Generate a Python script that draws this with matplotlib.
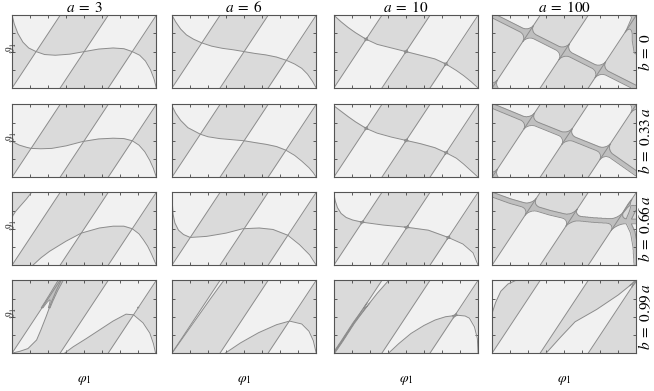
import numpy as np
import matplotlib.pyplot as plt
from matplotlib.path import Path

plt.rcParams['mathtext.fontset'] = 'stix'
plt.rcParams['font.family'] = ['Liberation Serif', 'DejaVu Serif']

# all coordinates in units of pi: phi_1 in [0, 2], theta_1 in [0, 1]
a_values = [3, 6, 10, 100]
b_labels = [r'$b\;=\;0$', r'$b\;=\;0.33\,a$', r'$b\;=\;0.66\,a$', r'$b\;=\;0.99\,a$']

# straight boundaries (bottom and top crossing of each line)
line_bottom = [0.0, 2 / 3, 4 / 3]
line_top = [2 / 3, 4 / 3, 2.0]

# ---- b = 0 ----
c_3_0_x = [0, 0.03, 0.08, 0.15, 0.23, 0.333, 0.45, 0.6, 0.8, 1.0, 1.2, 1.4, 1.55, 1.667, 1.77, 1.85, 1.92, 1.97, 2.0]
c_3_0_y = [1.0, 0.88, 0.75, 0.63, 0.55, 0.5, 0.46, 0.45, 0.465, 0.5, 0.535, 0.55, 0.54, 0.5, 0.45, 0.37, 0.25, 0.12, 0.0]
c_6_0_x = [0, 0.05, 0.12, 0.2, 0.3, 0.413, 0.55, 0.7, 0.85, 1.0, 1.15, 1.3, 1.45, 1.587, 1.7, 1.8, 1.88, 1.95, 2.0]
c_6_0_y = [1.0, 0.91, 0.81, 0.73, 0.67, 0.62, 0.575, 0.545, 0.525, 0.5, 0.475, 0.455, 0.425, 0.38, 0.33, 0.27, 0.19, 0.09, 0.0]
c_10_0_x = [0, 0.1, 0.2, 0.3, 0.447, 0.6, 0.8, 1.0, 1.2, 1.4, 1.553, 1.7, 1.8, 1.9, 2.0]
c_10_0_y = [1.0, 0.91, 0.83, 0.76, 0.67, 0.6, 0.55, 0.5, 0.45, 0.4, 0.33, 0.24, 0.17, 0.09, 0.0]
c_100_0_x = [0, 0.5, 1.0, 1.5, 2.0]
c_100_0_y = [1.0, 0.75, 0.5, 0.25, 0.0]
edge_100_0_x = [2.0, 1.975, 1.975, 2.0]
edge_100_0_y = [1.0, 0.85, 0.65, 0.5]

# ---- b = 0.33 a ----
c_3_1_x = [0, 0.1, 0.2, 0.263, 0.4, 0.55, 0.75, 0.98, 1.2, 1.4, 1.55, 1.667, 1.76, 1.84, 1.91, 1.96, 2.0]
c_3_1_y = [0.49, 0.44, 0.41, 0.395, 0.39, 0.395, 0.43, 0.49, 0.525, 0.535, 0.53, 0.5, 0.44, 0.35, 0.23, 0.12, 0.0]
c_6_1_x = [0, 0.05, 0.12, 0.22, 0.393, 0.5, 0.66, 0.83, 1.0, 1.15, 1.31, 1.45, 1.58, 1.7, 1.8, 1.9, 1.96, 2.0]
c_6_1_y = [0.98, 0.88, 0.78, 0.68, 0.59, 0.555, 0.53, 0.515, 0.5, 0.475, 0.45, 0.42, 0.37, 0.3, 0.22, 0.13, 0.06, 0.0]
c_10_1_x = [0, 0.1, 0.2, 0.3, 0.447, 0.6, 0.8, 1.0, 1.2, 1.4, 1.557, 1.7, 1.8, 1.9, 2.0]
c_10_1_y = [0.98, 0.905, 0.83, 0.76, 0.67, 0.605, 0.55, 0.505, 0.46, 0.405, 0.335, 0.26, 0.18, 0.09, 0.0]
c_100_1_x = [0, 0.513, 1.04, 1.57, 2.0]
c_100_1_y = [0.98, 0.77, 0.56, 0.35, 0.05]

# ---- b = 0.66 a ----
c_3_2_x = [0.29, 0.4, 0.52, 0.75, 0.96, 1.21, 1.4, 1.55, 1.667, 1.76, 1.82, 1.88, 1.93, 1.97, 2.0]
c_3_2_y = [0.0, 0.1, 0.19, 0.33, 0.44, 0.51, 0.535, 0.535, 0.5, 0.43, 0.35, 0.26, 0.16, 0.07, 0.0]
blob_3_2_x = [0.0, 0.01, 0.05, 0.12, 0.2, 0.27]
blob_3_2_y = [0.64, 0.68, 0.74, 0.82, 0.91, 1.0]
c_6_2_x = [0.0, 0.005, 0.015, 0.04, 0.09, 0.16, 0.253, 0.48, 0.75, 0.98, 1.21, 1.4, 1.607, 1.77, 1.91, 2.0]
c_6_2_y = [1.0, 0.85, 0.7, 0.58, 0.48, 0.42, 0.38, 0.395, 0.44, 0.5, 0.51, 0.49, 0.41, 0.28, 0.14, 0.0]
c_10_2_x = [0.0, 0.02, 0.05, 0.1, 0.17, 0.26, 0.393, 0.69, 1.013, 1.31, 1.587, 1.79, 1.93, 2.0]
c_10_2_y = [0.98, 0.88, 0.79, 0.71, 0.655, 0.62, 0.59, 0.55, 0.52, 0.48, 0.38, 0.29, 0.17, 0.0]
c_100_2_x = [0, 0.25, 0.533, 0.8, 1.1, 1.4, 1.733, 1.88, 2.05]
c_100_2_y = [0.97, 0.88, 0.8, 0.72, 0.65, 0.62, 0.6, 0.6, 0.6]
edge_100_2_x = [1.88, 1.95, 1.985, 2.0]
edge_100_2_y = [0.6, 0.45, 0.25, 0.0]
isle_100_2_x = [1.88, 1.93, 1.97, 2.05]
isle_100_2_y = [0.6, 0.7, 0.78, 0.8]

# ---- b = 0.99 a ----
lens_3_3_x = [0.0, 0.106, 0.22, 0.34, 0.40, 0.475, 0.545, 0.615, 0.68]
lens_3_3_y = [0.0, 0.024, 0.062, 0.18, 0.32, 0.51, 0.70, 0.865, 1.0]
arch_3_3_x = [0.73, 0.845, 1.03, 1.215, 1.40, 1.58, 1.684, 1.815, 1.91, 1.96, 1.99]
arch_3_3_y = [0.0, 0.085, 0.2, 0.32, 0.44, 0.535, 0.526, 0.417, 0.275, 0.13, 0.0]
lens_6_3_x = [0.0, 0.1, 0.25, 0.4, 0.55, 0.66, 0.72]
lens_6_3_y = [0.0, 0.14, 0.35, 0.56, 0.77, 0.92, 1.0]
arch_6_3_x = [0.74, 0.95, 1.2, 1.45, 1.63, 1.8, 1.9, 1.96, 2.0]
arch_6_3_y = [0.0, 0.14, 0.28, 0.39, 0.44, 0.4, 0.3, 0.17, 0.0]
lens_10_3_x = [0.0, 0.12, 0.273, 0.45, 0.6, 0.76]
lens_10_3_y = [0.0, 0.17, 0.41, 0.63, 0.82, 1.0]
arch_10_3_x = [0.76, 0.9, 1.07, 1.25, 1.405, 1.55, 1.714, 1.82, 1.88, 1.95, 1.99, 2.0]
arch_10_3_y = [0.0, 0.13, 0.27, 0.38, 0.455, 0.5, 0.52, 0.51, 0.48, 0.36, 0.2, 0.0]
arc_100_3_x = [0.0, 0.05, 0.12, 0.22, 0.33]
arc_100_3_y = [0.55, 0.7, 0.85, 0.95, 1.0]
rise_100_3_x = [0.75, 0.95, 1.15, 1.45, 1.75, 2.0]
rise_100_3_y = [0.0, 0.22, 0.43, 0.6, 0.8, 1.0]

# look of the thick bands per column: half width and fillet radius (px)
band_w0 = [0.0, 0.0, 0.0, 2.3]
band_rho = [0.0, 0.0, 2.6, 8.0]

LIGHT = np.array([0.949, 0.949, 0.949])
MEDIUM = np.array([0.855, 0.855, 0.855])
DARK = np.array([0.75, 0.75, 0.75])
EDGE = '#8c8c8c'
PX = 72.5  # pixels per unit of pi


def pts(xs, ys):
    return list(zip(xs, ys))


def above(xs, ys):
    p = pts(xs, ys)
    x0, y0 = p[0]
    x1, y1 = p[-1]
    head = [(-0.5, y0)] if x0 <= 0.01 else [(-0.5, -0.5), (x0, -0.5)]
    tail = [(2.5, y1)] if x1 >= 1.99 else [(x1, -0.5), (2.5, -0.5)]
    return head + p + tail + [(2.5, 1.5), (-0.5, 1.5)]


def corner_top_left(xs, ys):
    p = pts(xs, ys)
    return p + [(p[-1][0], 1.5), (-0.5, 1.5), (-0.5, p[0][1])]


def lens_arch(lx, ly, ax_, ay_):
    p = pts(lx, ly)
    q = pts(ax_, ay_)[::-1]
    return p + [(lx[-1], 1.5), (2.5, 1.5), (2.5, ay_[-1])] + q + [(ax_[0], -0.5), (lx[0], -0.5)]


def right_of(xs, ys):
    p = pts(xs, ys)
    return p + [(2.5, 1.5), (2.5, -0.5), (xs[0], -0.5)]


corner_bl = ([-0.2, 0.2], [0.1, -0.1])
corner_tr = ([1.8, 2.2], [1.1, 0.9])

# curves to draw and regions that flip the shading, per (row, col)
panels = {
    (0, 0): ([(c_3_0_x, c_3_0_y)], [above(c_3_0_x, c_3_0_y)]),
    (0, 1): ([(c_6_0_x, c_6_0_y)], [above(c_6_0_x, c_6_0_y)]),
    (0, 2): ([(c_10_0_x, c_10_0_y)], [above(c_10_0_x, c_10_0_y)]),
    (0, 3): ([(c_100_0_x, c_100_0_y), corner_bl, corner_tr, (edge_100_0_x, edge_100_0_y)],
             [above(c_100_0_x, c_100_0_y)]),
    (1, 0): ([(c_3_1_x, c_3_1_y)], [above(c_3_1_x, c_3_1_y)]),
    (1, 1): ([(c_6_1_x, c_6_1_y)], [above(c_6_1_x, c_6_1_y)]),
    (1, 2): ([(c_10_1_x, c_10_1_y)], [above(c_10_1_x, c_10_1_y)]),
    (1, 3): ([(c_100_1_x, c_100_1_y), corner_bl, corner_tr], [above(c_100_1_x, c_100_1_y)]),
    (2, 0): ([(c_3_2_x, c_3_2_y), (blob_3_2_x, blob_3_2_y)],
             [above(c_3_2_x, c_3_2_y), corner_top_left(blob_3_2_x, blob_3_2_y)]),
    (2, 1): ([(c_6_2_x, c_6_2_y)], [above(c_6_2_x, c_6_2_y)]),
    (2, 2): ([(c_10_2_x, c_10_2_y)], [above(c_10_2_x, c_10_2_y)]),
    (2, 3): ([(c_100_2_x, c_100_2_y), (edge_100_2_x, edge_100_2_y), (isle_100_2_x, isle_100_2_y)],
             [above(c_100_2_x, c_100_2_y)]),
    (3, 0): ([(lens_3_3_x, lens_3_3_y), (arch_3_3_x, arch_3_3_y)],
             [lens_arch(lens_3_3_x, lens_3_3_y, arch_3_3_x, arch_3_3_y)]),
    (3, 1): ([(lens_6_3_x, lens_6_3_y), (arch_6_3_x, arch_6_3_y)],
             [lens_arch(lens_6_3_x, lens_6_3_y, arch_6_3_x, arch_6_3_y)]),
    (3, 2): ([(lens_10_3_x, lens_10_3_y), (arch_10_3_x, arch_10_3_y)],
             [lens_arch(lens_10_3_x, lens_10_3_y, arch_10_3_x, arch_10_3_y)]),
    (3, 3): ([(arc_100_3_x, arc_100_3_y), (rise_100_3_x, rise_100_3_y)],
             [corner_top_left(arc_100_3_x, arc_100_3_y), right_of(rise_100_3_x, rise_100_3_y)]),
}

nx, ny = 560, 280
gx = (np.arange(nx) + 0.5) / nx * 2
gy = (np.arange(ny) + 0.5) / ny
X, Y = np.meshgrid(gx, gy)
flat = np.column_stack([X.ravel(), Y.ravel()])


def dist_to(xs, ys):
    d = np.full(X.shape, np.inf)
    for x0, y0, x1, y1 in zip(xs[:-1], ys[:-1], xs[1:], ys[1:]):
        dx, dy = x1 - x0, y1 - y0
        t = np.clip(((X - x0) * dx + (Y - y0) * dy) / (dx * dx + dy * dy), 0, 1)
        d = np.minimum(d, np.hypot(X - x0 - t * dx, Y - y0 - t * dy))
    return d * PX


# line parity and distance are the same in every panel
s1 = np.ones(X.shape)
dP = np.full(X.shape, np.inf)
for xb, xt in zip(line_bottom, line_top):
    s1 = np.where(X > xb + (xt - xb) * Y, -s1, s1)
    dP = np.minimum(dP, dist_to([xb, xt], [0, 1]))

fig = plt.figure(figsize=(6.54, 3.91), dpi=100)
col_left = [0.0185, 0.263, 0.5105, 0.7525]
row_bottom = [0.775, 0.547, 0.322, 0.097]
w, h = 0.2205, 0.186

for r in range(4):
    for c in range(4):
        ax = fig.add_axes([col_left[c], row_bottom[r], w, h])
        curves, flips = panels[(r, c)]
        s2 = np.ones(X.shape)
        for poly in flips:
            inside = Path(poly).contains_points(flat).reshape(X.shape)
            s2 = np.where(inside, -s2, s2)
        dQ = np.full(X.shape, np.inf)
        for xs, ys in curves:
            dQ = np.minimum(dQ, dist_to(xs, ys))
        w0, rho = band_w0[c], band_rho[c]
        if r == 3 and c == 3:
            # thin curves with small blobs where they cross
            w0, rho = 0.0, 3.0
        if r == 3 and c == 0:
            # the two boundaries merge near the top
            band = (dQ * dP < 5.0) & (dQ < 9) & (dP < 9) & (Y > 0.62)
        elif rho > 0:
            v = np.maximum(dQ - w0, 0)
            fillet = (dP < rho) & (v < rho) & ((rho - dP) ** 2 + (rho - v) ** 2 > rho ** 2)
            band = (dQ < w0) | fillet
        else:
            band = np.zeros(X.shape, bool)

        img = np.where((s1 * s2 > 0)[..., None], MEDIUM, LIGHT)
        img[band] = DARK
        ax.imshow(img, extent=(0, 2, 0, 1), origin='lower', aspect='auto',
                  interpolation='antialiased')
        if band.any():
            ax.contour(X, Y, band.astype(float), levels=[0.5], colors=EDGE, linewidths=0.6)
        for xb, xt in zip(line_bottom, line_top):
            ax.plot([xb, xt], [0, 1], color=EDGE, lw=0.7)
        if w0 < 1:
            for xs, ys in curves:
                ax.plot(xs, ys, color=EDGE, lw=0.7)

        ax.set_xlim(0, 2)
        ax.set_ylim(0, 1)
        ax.set_xticks(np.arange(0.25, 2, 0.25))
        ax.set_yticks([0.25, 0.5, 0.75])
        ax.tick_params(direction='in', length=2, width=0.6, color='#444444',
                       top=True, right=True, labelbottom=False, labelleft=False)
        for sp in ax.spines.values():
            sp.set_color('#555555')
            sp.set_linewidth(0.8)
        if r == 0:
            ax.set_title(r'$a\;=\;%d$' % a_values[c], fontsize=11, pad=2)
        if c == 0:
            fig.text(0.006, row_bottom[r] + h * 0.55, r'$\vartheta_1$', rotation=90,
                     ha='left', va='center', fontsize=9, color='#444444')
        if c == 3:
            fig.text(0.986, row_bottom[r] + h / 2, b_labels[r], rotation=90,
                     ha='center', va='center', fontsize=11)

for c in range(4):
    fig.text(col_left[c] + w / 2, 0.028, r'$\varphi_1$', ha='center', va='center', fontsize=10)

fig.savefig('out.png', dpi=100)
